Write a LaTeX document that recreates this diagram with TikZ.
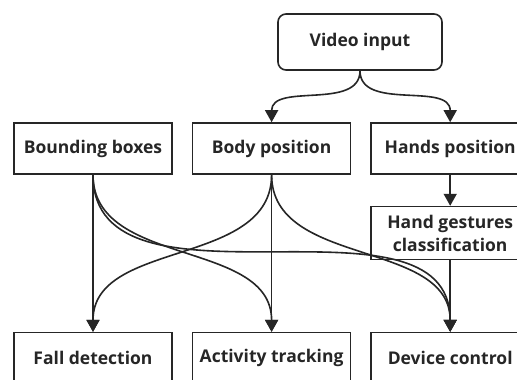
\documentclass[tikz,border=0pt]{standalone}
\usepackage{fontspec}
\setmainfont{Open Sans}
\usepackage{xcolor}
\usetikzlibrary{arrows.meta,positioning}
\definecolor{ink}{HTML}{262626}

\begin{document}
\begin{tikzpicture}[
    x=1pt, y=1pt,
    node distance=31pt and 19pt,
    font=\fontsize{17.5}{23}\selectfont\bfseries, text=ink,
    box/.style={draw=ink, line width=1.6pt, fill=white, minimum width=158pt, minimum height=51pt, align=center, inner sep=2pt},
    arr/.style={-{Triangle[length=12pt,width=13pt]}, line width=1.6pt, draw=ink}
  ]
  \clip (0,0) rectangle (517,-380);
  \fill[white] (0,0) rectangle (517,-380);

  \node[box, rounded corners=8pt, minimum width=164pt, minimum height=56pt] (video) at (360,-42) {Video input};
  \node[box] (bbox) at (93,-148.5) {Bounding boxes};
  \node[box, right=of bbox] (body) {Body position};
  \node[box, right=of body] (hands) {Hands position};
  \node[box, below=of hands, minimum height=53pt] (gesture) {Hand gestures\\classification};
  \node[box, below=157pt of bbox] (fall) {Fall detection};
  \node[box, right=of fall] (activity) {Activity tracking};
  \node[box, right=of activity] (device) {Device control};

  \draw[arr] (video.south) to[out=-90, in=90] (body.north);
  \draw[arr] (video.south) to[out=-90, in=90] (hands.north);
  \draw[arr] (hands) -- (gesture);
  \draw[arr] (gesture) -- (device);

  \draw[arr] (bbox) -- (fall);
  \draw[arr] (bbox.south) to[out=-90, in=90] (activity.north);
  \draw[arr] (bbox.south) to[out=-90, in=90] (device.north);
  \draw[arr] (body) -- (activity);
  \draw[arr] (body.south) to[out=-90, in=90] (fall.north);
  \draw[arr] (body.south) to[out=-90, in=90] (device.north);
\end{tikzpicture}
\end{document}
